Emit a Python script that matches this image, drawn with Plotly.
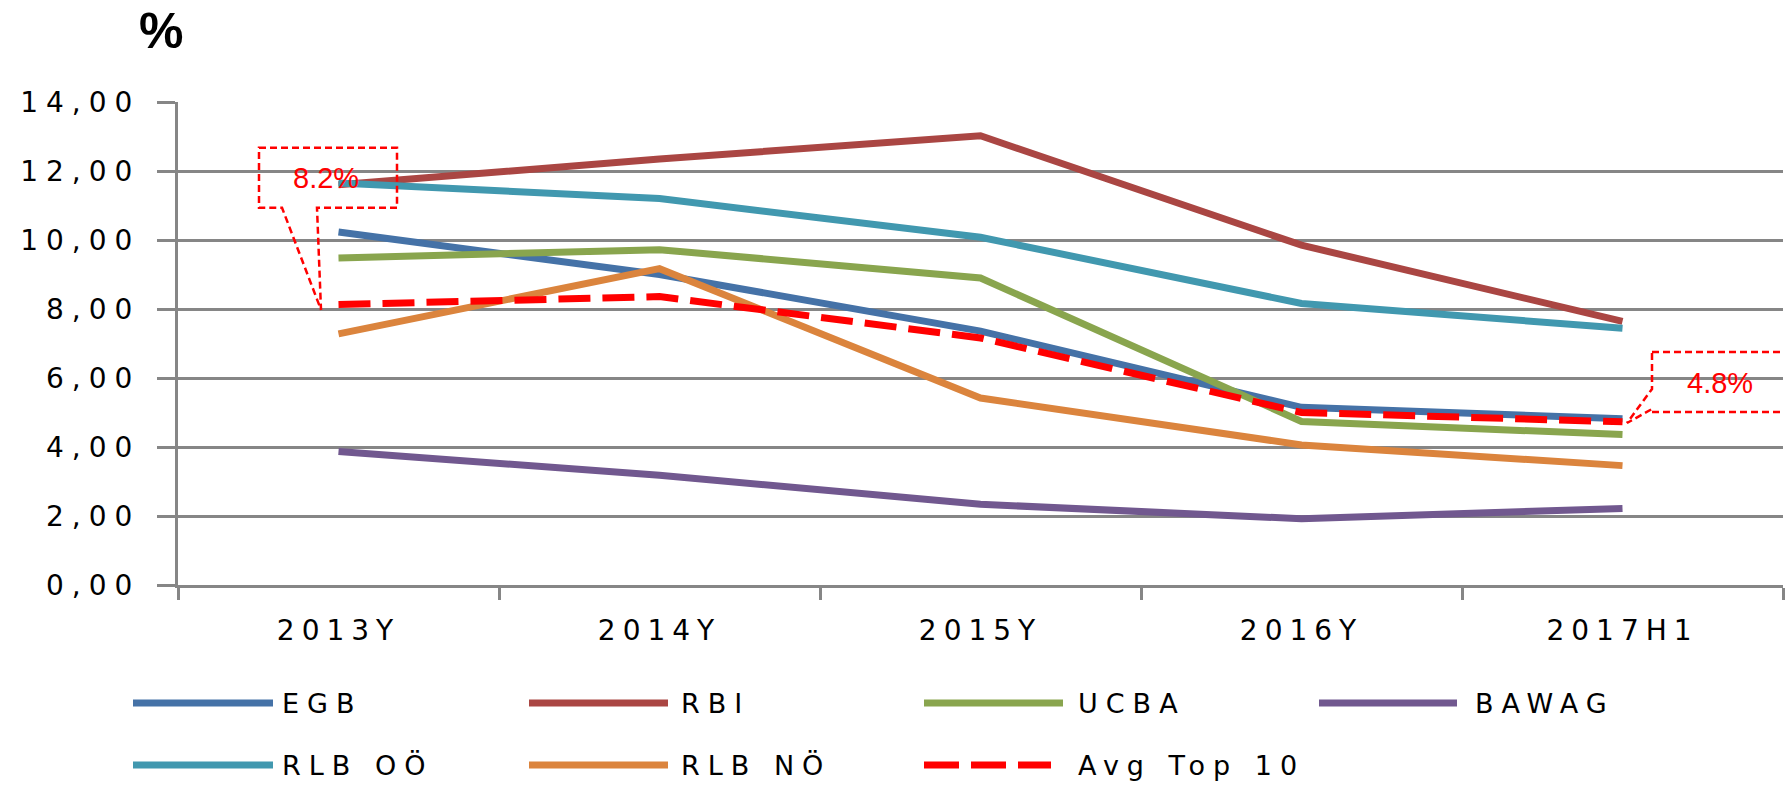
import plotly.graph_objects as go

# ---------------- data ----------------
categories = ["2013Y", "2014Y", "2015Y", "2016Y", "2017H1"]
series_names = ["EGB", "RBI", "UCBA", "BAWAG", "RLB OÖ", "RLB NÖ", "Avg Top 10"]
egb = [10.23, 9.00, 7.36, 5.15, 4.82]
rbi = [11.60, 12.35, 13.02, 9.85, 7.64]
ucba = [9.48, 9.72, 8.90, 4.74, 4.36]
bawag = [3.87, 3.18, 2.34, 1.92, 2.22]
rlb_oo = [11.65, 11.20, 10.08, 8.16, 7.44]
rlb_no = [7.28, 9.17, 5.42, 4.06, 3.46]
avg_top10 = [8.13, 8.36, 7.16, 5.00, 4.73]
series_values = [egb, rbi, ucba, bawag, rlb_oo, rlb_no, avg_top10]
colors = ["#4572A7", "#AA4643", "#89A54E", "#71588F", "#4198AF", "#DB843D", "#FF0000"]
y_tickvals = [0, 2, 4, 6, 8, 10, 12, 14]
y_ticktext = ["0,00", "2,00", "4,00", "6,00", "8,00", "10,00", "12,00", "14,00"]
callout_labels = ["8.2%", "4.8%"]

# ---------------- layout geometry ----------------
W, H = 1790, 785
ML, MR, MT, MB = 178, 7, 102, 200
PW, PH = W - ML - MR, H - MT - MB
GRID = "#868686"
TICKFONT = "DejaVu Sans"


def spaced(t, px):
    return f'<span style="letter-spacing:{px}px">{t}</span>'


def xp(px):
    return (px - ML) / PW


def yp(py):
    return (H - MB - py) / PH


fig = go.Figure()
for name, vals, col in zip(series_names, series_values, colors):
    dash = "32px,12px" if name == "Avg Top 10" else "solid"
    fig.add_trace(go.Scatter(
        x=categories, y=vals, name=name, mode="lines",
        line=dict(color=col, width=7, dash=dash),
        showlegend=False,
    ))

fig.update_layout(
    width=W, height=H,
    margin=dict(l=ML, r=MR, t=MT, b=MB, pad=0),
    paper_bgcolor="white", plot_bgcolor="white",
    showlegend=False,
)
fig.update_xaxes(
    type="category", range=[-0.5, 4.5],
    showgrid=False, showline=True, linecolor=GRID, linewidth=3,
    ticks="outside", tickson="boundaries", ticklen=12, tickwidth=3, tickcolor=GRID,
    tickvals=categories, ticktext=[spaced(c, 7) for c in categories],
    tickfont=dict(family=TICKFONT, size=28, color="black"),
    ticklabelstandoff=18,
)
fig.update_yaxes(
    range=[0, 14], tickvals=y_tickvals, ticktext=[spaced(t, 8) for t in y_ticktext],
    showgrid=True, gridcolor=GRID, gridwidth=3,
    showline=True, linecolor=GRID, linewidth=3,
    ticks="outside", ticklen=18, tickwidth=3, tickcolor=GRID,
    tickfont=dict(family=TICKFONT, size=28, color="black"),
    ticklabelstandoff=11, zeroline=False,
)

# "%" unit label
fig.add_annotation(x=xp(161), y=yp(31), xref="paper", yref="paper", text="<b>%</b>",
                   showarrow=False, xanchor="center", yanchor="middle",
                   font=dict(family="Liberation Sans", size=50, color="black"))

# callouts anchored to the Avg Top 10 first / last points
callouts = [
    dict(cat=categories[0], val=avg_top10[0], text=callout_labels[0],
         path="M -79.5,156.8 L 58.5,156.8 L 58.5,96.8 L -21.5,96.8 L -17.5,-5.2 L -56.5,96.8 L -79.5,96.8 Z",
         xs=-12.5, ys=126.8),
    dict(cat=categories[-1], val=avg_top10[-1], text=callout_labels[1],
         path="M 29.5,69.8 L 162.5,69.8 L 162.5,9.8 L 29.5,9.8 L 29.5,12.8 L 4.5,-1.2 L 29.5,32.8 Z",
         xs=97.5, ys=38.8),
]
for c in callouts:
    fig.add_shape(type="path", xref="x", yref="y", xsizemode="pixel", ysizemode="pixel",
                  xanchor=c["cat"], yanchor=c["val"], path=c["path"],
                  line=dict(color="#FF0000", width=2.5, dash="7px,4px"), layer="above")
    fig.add_annotation(x=c["cat"], y=c["val"], xref="x", yref="y", text=c["text"],
                       showarrow=False, xshift=c["xs"], yshift=c["ys"],
                       font=dict(family="Liberation Sans", size=29, color="#FF0000"))

# custom legend (long line samples)
leg_cols = [(133, 273, 280), (529, 668, 679), (924, 1063, 1076), (1319, 1457, 1473)]
leg_rows = [703, 765]
for i, (name, col) in enumerate(zip(series_names, colors)):
    r, k = divmod(i, 4)
    x0, x1, xt = leg_cols[k]
    y = leg_rows[r]
    is_avg = name == "Avg Top 10"
    if is_avg:
        x1 = 1051
    fig.add_shape(type="line", xref="paper", yref="paper",
                  x0=xp(x0), x1=xp(x1), y0=yp(y), y1=yp(y),
                  line=dict(color=col, width=7, dash="35px,12px" if is_avg else "solid"))
    fig.add_annotation(x=xp(xt), y=yp(y), xref="paper", yref="paper",
                       text=spaced(name, 8), showarrow=False,
                       xanchor="left", yanchor="middle",
                       font=dict(family=TICKFONT, size=27, color="black"))

fig.write_html("out.html", config={"displayModeBar": False},
               post_script="document.body.style.margin='0';document.body.style.overflow='hidden';")
